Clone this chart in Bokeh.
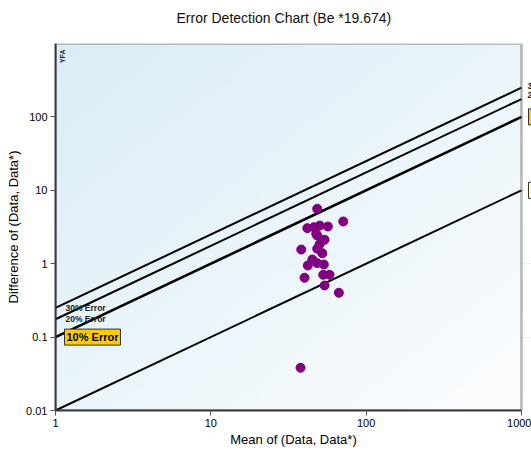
import numpy as np
from math import pi
from bokeh.plotting import figure
from bokeh.models import Label, FixedTicker, Range1d, BoxAnnotation, Title
from bokeh.embed import file_html
from bokeh.resources import INLINE

# ---- data ----
mean_vals = [48.4, 71.2, 41.8, 46.1, 50.3, 56.7, 47.7, 48.4, 54.0, 50.1, 38.2, 48.4,
             52.2, 45.0, 48.4, 42.1, 53.4, 52.9, 58.1, 40.1, 54.0, 66.7, 37.8]
diff_vals = [5.6, 3.76, 3.05, 3.14, 3.31, 3.21, 2.55, 2.42, 2.12, 1.83, 1.56, 1.60,
             1.39, 1.14, 1.02, 0.945, 0.975, 0.706, 0.706, 0.643, 0.505, 0.402, 0.0382]

error_labels = ["30% Error", "20% Error", "10% Error", "1% Error"]
error_ratio = [0.25, 0.175, 0.1, 0.01]
error_width = [2, 2, 2.6, 2]

x_ticks = [1, 10, 100, 1000]
x_tick_labels = ["1", "10", "100", "1000"]
y_ticks = [0.01, 0.1, 1, 10, 100]
y_tick_labels = ["0.01", "0.1", "1", "10", "100"]

x_min, x_max = 1, 1000
y_min, y_max = 0.01, 1000

TITLE = "Error Detection Chart (Be *19.674)"
FONT = "Liberation Sans"

W, H = 531, 452
LEFT, RIGHT_GAP, TOP, BOTTOM = 55, 10, 43, 42
plot_px = W - LEFT - RIGHT_GAP          # pixels used by the 1..1000 decades
frame_px = W - LEFT                     # frame runs to the window edge
x_view_max = 10 ** (np.log10(x_max / x_min) * frame_px / plot_px) * x_min

p = figure(width=W, height=H, x_axis_type="log", y_axis_type="log",
           x_range=Range1d(x_min, x_view_max), y_range=Range1d(y_min, y_max),
           output_backend="svg", toolbar_location=None,
           min_border_left=LEFT, min_border_right=0, min_border_top=TOP,
           min_border_bottom=BOTTOM)
p.title.text = TITLE
p.title.text_font = FONT
p.title.text_font_size = "14px"
p.title.text_font_style = "normal"
p.title.text_color = "#111111"
p.title.align = "left"
p.title.offset = 121
# spacer between title and frame
p.add_layout(Title(text=" ", text_font_size="10px", standoff=0), "above")

# background gradient (top-left light blue -> bottom-right white)
N = 64
u = np.linspace(0, 1, N)[None, :]
v = np.linspace(0, 1, N)[:, None]
t = (u + (1 - v)) / 2.0
c1 = np.array([218, 237, 247])
c2 = np.array([252, 253, 254])
img = np.empty((N, N), dtype=np.uint32)
view = img.view(dtype=np.uint8).reshape((N, N, 4))
for k in range(3):
    view[:, :, k] = (c1[k] + (c2[k] - c1[k]) * t).astype(np.uint8)
view[:, :, 3] = 255
p.image_rgba(image=[img], x=x_min, y=y_min, dw=x_max - x_min, dh=y_max - y_min)

p.background_fill_color = "white"
p.border_fill_color = "white"
p.outline_line_color = None

p.xgrid.grid_line_color = "#dfe8ee"
p.ygrid.grid_line_color = "#dfe8ee"
p.xgrid.grid_line_alpha = 0.6
p.ygrid.grid_line_alpha = 0.6
p.ygrid.bounds = (y_min, y_max)

# error lines
for r, w in zip(error_ratio, error_width):
    p.line(x=[x_min, x_max], y=[r * x_min, r * x_max], line_color="black", line_width=w)

# data points
p.scatter(x=mean_vals, y=diff_vals, size=9, color="#800080", line_color="#800080")

# frame border around the 1..1000 area
p.add_layout(BoxAnnotation(left=x_min, right=x_max, bottom=y_min, top=y_max,
                           fill_alpha=0, line_color="#3a3a3a", line_width=3))

# axes
p.xaxis.ticker = FixedTicker(ticks=x_ticks)
p.yaxis.ticker = FixedTicker(ticks=y_ticks)
p.xaxis.bounds = (x_min, x_max)
p.xaxis.major_label_overrides = {t_: l for t_, l in zip(x_ticks, x_tick_labels)}
p.yaxis.major_label_overrides = {t_: l for t_, l in zip(y_ticks, y_tick_labels)}
for ax in (p.xaxis, p.yaxis):
    ax.minor_tick_line_color = None
    ax.major_tick_out = 5
    ax.major_tick_in = 0
    ax.major_tick_line_color = "#555555"
    ax.axis_line_color = "#3a3a3a"
    ax.axis_line_width = 2
    ax.major_label_text_font = FONT
    ax.major_label_text_font_size = "11px"
    ax.major_label_text_color = "black"
    ax.major_label_standoff = 3
    ax.axis_label_text_font = FONT
    ax.axis_label_text_font_size = "13px"
    ax.axis_label_text_font_style = "normal"
    ax.axis_label_text_color = "black"
p.xaxis.axis_label = "Mean of (Data, Data*)"
p.yaxis.axis_label = "Difference of (Data, Data*)"
p.xaxis.axis_label_standoff = 2
p.yaxis.axis_label_standoff = 2

# left-side labels
for lab, r in zip(error_labels[:2], error_ratio[:2]):
    p.add_layout(Label(x=x_min, y=r * x_min, x_offset=10, y_offset=0, text=lab,
                       text_font=FONT, text_font_size="8.5px", text_font_style="bold",
                       text_color="#222222", text_baseline="middle"))

def boxed(x, y, text, fill, xoff, yoff, size):
    p.add_layout(Label(x=x, y=y, x_offset=xoff + 2, y_offset=yoff - 2, text=text,
                       text_font=FONT, text_font_size=size, text_font_style="bold",
                       text_alpha=0.0, text_baseline="middle",
                       background_fill_color="#555555", background_fill_alpha=0.9,
                       padding=2))
    p.add_layout(Label(x=x, y=y, x_offset=xoff, y_offset=yoff, text=text,
                       text_font=FONT, text_font_size=size, text_font_style="bold",
                       text_color="black", text_baseline="middle",
                       background_fill_color=fill, border_line_color="#333333",
                       border_line_width=1, padding=2))

boxed(x_min, error_ratio[2] * x_min, error_labels[2], "#ffcc00", 9, 0, "11px")

# right-side labels (cut by the window edge, as in the reference)
for lab, r, yo in zip(error_labels[:2], error_ratio[:2], [2, 4]):
    p.add_layout(Label(x=x_max, y=r * x_max, x_offset=6, y_offset=yo, text=lab,
                       text_font=FONT, text_font_size="8.5px", text_font_style="bold",
                       text_color="#222222", text_baseline="middle"))
boxed(x_max, error_ratio[2] * x_max, error_labels[2], "#ffcc00", 7, 0, "11px")
boxed(x_max, error_ratio[3] * x_max, error_labels[3], "#ffffcc", 7, 0, "11px")

# corner tag
p.add_layout(Label(x=x_min, y=y_max, x_offset=7, y_offset=-6, text="YFA", angle=pi / 2,
                   text_font=FONT, text_font_size="7px", text_font_style="bold",
                   text_color="#222222", text_align="right", text_baseline="middle"))

open("out.html", "w").write(file_html(p, INLINE))
